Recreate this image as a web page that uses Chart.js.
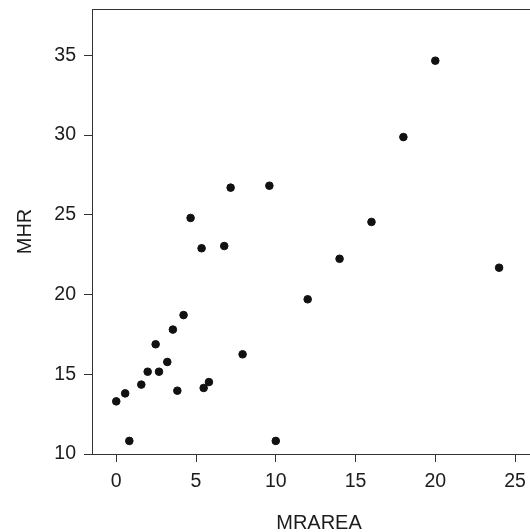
<!DOCTYPE html>
<html>
<head>
<meta charset="utf-8">
<script src="https://cdn.jsdelivr.net/npm/chart.js@4"></script>
<style>
  html, body { margin: 0; padding: 0; background: #fff; overflow: hidden; }
  #wrap { width: 530px; height: 532px; overflow: hidden; }
</style>
</head>
<body>
<div id="wrap"><canvas id="chart" width="560" height="532"></canvas></div>
<script>
const mrarea = [0, 0.56, 0.82, 1.57, 1.97, 2.47, 2.68, 3.2, 3.55, 3.83, 4.22, 4.66, 5.35, 5.48, 5.81, 6.77, 7.17, 7.92, 9.6, 10, 12, 14, 16, 18, 20, 24];
const mhr = [13.3, 13.8, 10.82, 14.35, 15.16, 16.88, 15.16, 15.77, 17.8, 13.97, 18.71, 24.8, 22.9, 14.14, 14.51, 23.04, 26.7, 16.25, 26.82, 10.82, 19.7, 22.24, 24.55, 29.87, 34.66, 21.68];
const xTicks = [0, 5, 10, 15, 20, 25];
const yTicks = [10, 15, 20, 25, 30, 35];

const ink = "#1c1c1c";
const tickFont = { family: "'Liberation Sans', Arial, sans-serif", size: 19.5 };
const titleFont = { family: "'Liberation Sans', Arial, sans-serif", size: 20 };

// box round the plot area (its right side falls past the visible page)
const frame = {
  id: "frame",
  afterDraw(chart) {
    const { ctx, chartArea: a } = chart;
    ctx.save();
    ctx.strokeStyle = "#333";
    ctx.lineWidth = 1;
    ctx.strokeRect(a.left + 0.5, a.top + 0.5, a.right - a.left, a.bottom - a.top);
    ctx.restore();
  },
};

new Chart(document.getElementById("chart"), {
  type: "scatter",
  data: {
    datasets: [
      {
        data: mrarea.map((x, i) => ({ x, y: mhr[i] })),
        backgroundColor: "#111",
        borderColor: "#111",
        pointRadius: 3.8,
        pointHoverRadius: 3.8,
      },
    ],
  },
  options: {
    responsive: false,
    animation: false,
    layout: { padding: { top: 9, right: 14, left: 0, bottom: 0 } },
    plugins: { legend: { display: false }, tooltip: { enabled: false } },
    scales: {
      x: {
        type: "linear",
        min: -1.52,
        max: 26.94,
        afterFit: (s) => {
          s.height = 78;
          s.paddingLeft = 0;
          s.paddingRight = 0;
        },
        afterBuildTicks: (s) => { s.ticks = xTicks.map((value) => ({ value })); },
        grid: { drawOnChartArea: false, drawTicks: true, tickLength: 8, color: "#333" },
        border: { display: true, color: "#333" },
        ticks: { color: ink, font: tickFont, padding: 8, maxRotation: 0 },
        title: { display: true, text: "MRAREA", color: ink, font: titleFont, padding: { top: 0, bottom: -3 } },
      },
      y: {
        type: "linear",
        min: 10,
        max: 37.9,
        afterFit: (s) => {
          s.width = 92;
          s.paddingTop = 0;
          s.paddingBottom = 0;
        },
        afterBuildTicks: (s) => { s.ticks = yTicks.map((value) => ({ value })); },
        grid: { drawOnChartArea: false, drawTicks: true, tickLength: 8, color: "#333" },
        border: { display: true, color: "#333" },
        ticks: { color: ink, font: tickFont, padding: 8 },
        title: { display: true, text: "MHR", color: ink, font: titleFont, padding: { top: 13, bottom: 0 } },
      },
    },
  },
  plugins: [frame],
});
</script>
</body>
</html>
